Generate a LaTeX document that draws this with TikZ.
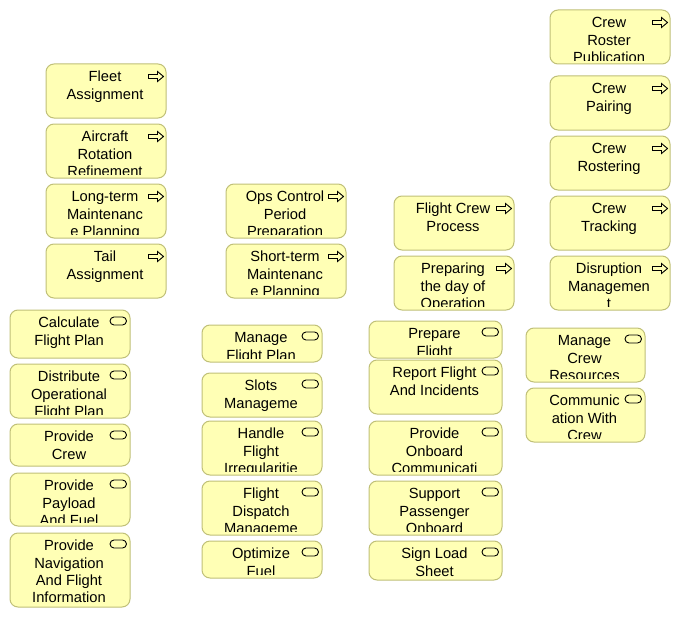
\documentclass[tikz,border=0pt]{standalone}
\usepackage{fontspec}
\setmainfont{Liberation Sans}
\usepackage{tikz}
\usetikzlibrary{shapes,arrows}

\definecolor{bizfill}{RGB}{255,255,181}
\definecolor{bizline}{RGB}{192,192,120}

\tikzset{
  elembox/.style={shape=rectangle, draw=bizline, fill=bizfill, line width=1pt, rounded corners=8pt},
  icon/.style={draw=black, line width=0.9pt, rounded corners=0pt},
  proc/.style={elembox, path picture={
    \draw[icon] ([shift={(-17.5pt,-10.5pt)}]path picture bounding box.north east) -- ++(9pt,0pt) -- ++(0pt,3pt) -- ++(6pt,-5pt) -- ++(-6pt,-5pt) -- ++(0pt,3pt) -- ++(-9pt,0pt) -- cycle;}},
  serv/.style={elembox, path picture={
    \draw[icon, rounded corners=4pt] ([shift={(-20pt,-7pt)}]path picture bounding box.north east) rectangle ++(16.5pt,-8pt);}},
  elemtext/.style={anchor=north, inner sep=0pt, align=center, font=\fontsize{14.7}{17.2}\selectfont}
}

\newcommand{\elem}[7]{%
  \node (#1) at ({#3+#5/2},{#4+#6/2}) [#2, minimum width=#5pt, minimum height=#6pt] {};
  \begin{scope}
    \clip (#1.north west) rectangle ([yshift=4pt]#1.south east);
    \node (#1-text) at ([xshift=-1pt,yshift=-7.2pt]#1.north) [elemtext] {\rule{0pt}{11pt}#7};
  \end{scope}}

\begin{document}
\begin{tikzpicture}[x=1pt, y=-1pt]
\useasboundingbox (0,0) rectangle (680,618);

\elem{fleet}{proc}{46}{64}{120}{54}{Fleet\\Assignment}
\elem{rotation}{proc}{46}{124}{120}{54}{Aircraft\\Rotation\\Refinement}
\elem{ltmaint}{proc}{46}{184}{120}{54}{Long-term\\Maintenanc\\e Planning}
\elem{tail}{proc}{46}{244}{120}{54}{Tail\\Assignment}

\elem{opsctrl}{proc}{226}{184}{120}{54}{Ops Control\\Period\\Preparation}
\elem{stmaint}{proc}{226}{244}{120}{54}{Short-term\\Maintenanc\\e Planning}

\elem{fcrew}{proc}{394}{196}{120}{54}{Flight Crew\\Process}
\elem{dayops}{proc}{394}{256}{120}{54}{Preparing\\the day of\\Operation}

\elem{roster}{proc}{550}{10}{120}{54}{Crew\\Roster\\Publication}
\elem{pairing}{proc}{550}{76}{120}{54}{Crew\\Pairing}
\elem{rostering}{proc}{550}{136}{120}{54}{Crew\\Rostering}
\elem{tracking}{proc}{550}{196}{120}{54}{Crew\\Tracking}
\elem{disruption}{proc}{550}{256}{120}{54}{Disruption\\Managemen\\t}

\elem{calcfp}{serv}{10}{310}{120}{48}{Calculate\\Flight Plan}
\elem{distofp}{serv}{10}{364}{120}{54}{Distribute\\Operational\\Flight Plan}
\elem{provcrew}{serv}{10}{424}{120}{42}{Provide\\Crew}
\elem{payload}{serv}{10}{473}{120}{53}{Provide\\Payload\\And Fuel}
\elem{navinfo}{serv}{10}{533}{120}{74}{Provide\\Navigation\\And Flight\\Information}

\elem{managefp}{serv}{202}{325}{120}{37}{Manage\\Flight Plan}
\elem{slots}{serv}{202}{373}{120}{44}{Slots\\Manageme}
\elem{irreg}{serv}{202}{421}{120}{54}{Handle\\Flight\\Irregularitie}
\elem{dispatch}{serv}{202}{481}{120}{54}{Flight\\Dispatch\\Manageme}
\elem{fuel}{serv}{202}{541}{120}{37}{Optimize\\Fuel}

\elem{prepfl}{serv}{369}{321}{133}{37}{Prepare\\Flight}
\elem{report}{serv}{369}{360}{133}{54}{Report Flight\\And Incidents}
\elem{onboard}{serv}{369}{421}{133}{54}{Provide\\Onboard\\Communicati}
\elem{passenger}{serv}{369}{481}{133}{54}{Support\\Passenger\\Onboard}
\elem{loadsheet}{serv}{369}{541}{133}{39}{Sign Load\\Sheet}

\elem{crewres}{serv}{526}{328}{119}{54}{Manage\\Crew\\Resources}
\elem{crewcomm}{serv}{526}{388}{119}{54}{Communic\\ation With\\Crew}
\end{tikzpicture}
\end{document}
